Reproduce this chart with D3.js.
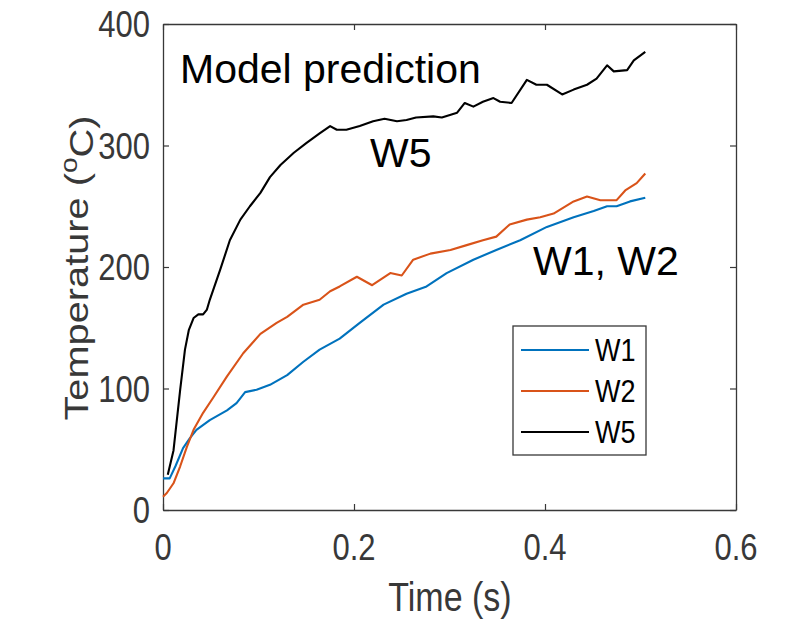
<!DOCTYPE html>
<html>
<head>
<meta charset="utf-8">
<script src="https://cdnjs.cloudflare.com/ajax/libs/d3/7.8.5/d3.min.js"></script>
<style>
  body { margin: 0; background: #fff; }
  svg { display: block; font-family: "Liberation Sans", Arial, sans-serif; }
</style>
</head>
<body>
<svg id="chart" width="788" height="620"></svg>
<script>
// data
var w1_time = [0, 0.007, 0.013, 0.021, 0.028, 0.035, 0.049, 0.067, 0.077, 0.086, 0.098, 0.112, 0.130, 0.147, 0.164, 0.185, 0.206, 0.231, 0.255, 0.276, 0.297, 0.325, 0.349, 0.374, 0.402, 0.430, 0.451, 0.465, 0.475, 0.489, 0.505];
var w1_temp = [26, 26, 36, 51, 59, 66, 74, 82, 88, 97, 99, 103, 111, 122, 132, 141, 154, 169, 178, 184, 195, 206, 214, 222, 233, 241, 246, 250, 250, 254, 257];

var w2_time = [0, 0.004, 0.011, 0.018, 0.025, 0.032, 0.042, 0.053, 0.067, 0.084, 0.102, 0.119, 0.130, 0.147, 0.164, 0.175, 0.185, 0.203, 0.219, 0.238, 0.250, 0.262, 0.280, 0.301, 0.318, 0.335, 0.349, 0.363, 0.381, 0.395, 0.409, 0.430, 0.444, 0.458, 0.475, 0.484, 0.496, 0.505];
var w2_temp = [11, 14, 22, 36, 52, 66, 80, 93, 110, 129, 145, 154, 159, 169, 173, 180, 184, 192, 185, 195, 193, 206, 211, 214, 218, 222, 225, 235, 239, 241, 244, 254, 258, 255, 255, 263, 269, 277];

var w5_time = [0.005, 0.011, 0.018, 0.023, 0.027, 0.032, 0.037, 0.042, 0.046, 0.049, 0.060, 0.070, 0.081, 0.091, 0.102, 0.112, 0.123, 0.137, 0.150, 0.164, 0.175, 0.182, 0.192, 0.206, 0.220, 0.232, 0.245, 0.255, 0.265, 0.283, 0.292, 0.308, 0.316, 0.325, 0.335, 0.346, 0.353, 0.365, 0.381, 0.391, 0.402, 0.418, 0.430, 0.444, 0.454, 0.465, 0.472, 0.486, 0.493, 0.505];
var w5_temp = [29, 49, 99, 132, 148, 158, 161, 161, 165, 173, 198, 222, 239, 250, 261, 274, 284, 294, 302, 310, 316, 313, 313, 316, 320, 322, 320, 321, 323, 324, 323, 327, 335, 332, 336, 339, 336, 335, 354, 350, 350, 342, 346, 350, 355, 366, 361, 362, 370, 377];

var series_names = ["W1", "W2", "W5"];
var series_colors = ["#0072BD", "#D95319", "#000000"];
var x_ticks = [0, 0.2, 0.4, 0.6];
var y_ticks = [0, 100, 200, 300, 400];

var svg = d3.select("#chart"),
    margin = {top: 24, right: 52, bottom: 110, left: 163},
    width = 788 - margin.left - margin.right,
    height = 620 - margin.top - margin.bottom,
    stretch = 1.17,
    axis_color = "#383838";

var x = d3.scaleLinear().domain([0, 0.6]).range([0, width]);
var y = d3.scaleLinear().domain([0, 400]).range([height, 0]);

var g = svg.append("g")
    .attr("transform", "translate(" + margin.left + "," + margin.top + ")");

var series = [
  {name: "W1", time: w1_time, temp: w1_temp},
  {name: "W2", time: w2_time, temp: w2_temp},
  {name: "W5", time: w5_time, temp: w5_temp}
].map(function(s, i) {
  return {
    name: s.name,
    color: series_colors[i],
    values: s.time.map(function(t, j) { return {t: t, v: s.temp[j]}; })
  };
});

//AXES - matlab style box with inward ticks
function styleAxis(sel) {
  sel.select(".domain").attr("stroke", axis_color).attr("stroke-width", 1.3);
  sel.selectAll(".tick line").attr("stroke", axis_color).attr("stroke-width", 1.2);
}

g.append("g")
    .attr("transform", "translate(0," + height + ")")
    .call(d3.axisBottom(x).tickValues(x_ticks).tickSizeInner(-6).tickSizeOuter(0).tickFormat(""))
    .call(styleAxis);
g.append("g")
    .call(d3.axisTop(x).tickValues(x_ticks).tickSizeInner(-6).tickSizeOuter(0).tickFormat(""))
    .call(styleAxis);
g.append("g")
    .call(d3.axisLeft(y).tickValues(y_ticks).tickSizeInner(-6).tickSizeOuter(0).tickFormat(""))
    .call(styleAxis);
g.append("g")
    .attr("transform", "translate(" + width + ",0)")
    .call(d3.axisRight(y).tickValues(y_ticks).tickSizeInner(-6).tickSizeOuter(0).tickFormat(""))
    .call(styleAxis);

// tick labels (picture is slightly stretched vertically)
g.append("g").selectAll("text")
    .data(x_ticks)
  .enter().append("text")
    .attr("transform", function(d) { return "translate(" + x(d) + "," + (height + 50) + ") scale(1," + stretch + ")"; })
    .attr("text-anchor", "middle")
    .attr("fill", axis_color)
    .style("font-size", "31px")
    .text(function(d) { return d; });

g.append("g").selectAll("text")
    .data(y_ticks)
  .enter().append("text")
    .attr("transform", function(d) { return "translate(-13," + (y(d) + 13) + ") scale(1," + stretch + ")"; })
    .attr("text-anchor", "end")
    .attr("fill", axis_color)
    .style("font-size", "31px")
    .text(function(d) { return d; });

svg.append("text")
    .attr("transform", "translate(450,611) scale(1," + stretch + ")")
    .attr("text-anchor", "middle")
    .attr("fill", axis_color)
    .style("font-size", "34px")
    .text("Time (s)");

var ylab = svg.append("text")
    .attr("transform", "translate(88,268) scale(1," + stretch + ") rotate(-90)")
    .attr("text-anchor", "middle")
    .attr("fill", axis_color)
    .style("font-size", "34px");
ylab.append("tspan").text("Temperature (");
ylab.append("tspan").attr("dy", "-0.45em").style("font-size", "24px").text("o");
ylab.append("tspan").attr("dy", "0.45em").text("C)");

//LINES
var line = d3.line()
    .x(function(d) { return x(d.t); })
    .y(function(d) { return y(d.v); });

g.selectAll(".series")
    .data(series)
  .enter().append("path")
    .attr("class", "series")
    .attr("fill", "none")
    .attr("stroke", function(d) { return d.color; })
    .attr("stroke-width", 2.1)
    .attr("stroke-linejoin", "round")
    .attr("d", function(d) { return line(d.values); });

//LEGEND
var legend = svg.append("g").attr("transform", "translate(513,326)");
legend.append("rect")
    .attr("width", 133)
    .attr("height", 129)
    .attr("fill", "#fff")
    .attr("stroke", axis_color)
    .attr("stroke-width", 1.3);

var item = legend.selectAll(".item")
    .data(series_names)
  .enter().append("g")
    .attr("class", "item")
    .attr("transform", function(d, i) { return "translate(0," + (24 + i * 41) + ")"; });
item.append("line")
    .attr("x1", 8).attr("x2", 76)
    .attr("stroke", function(d, i) { return series_colors[i]; })
    .attr("stroke-width", 2.1);
item.append("text")
    .attr("transform", "translate(82,11) scale(1," + stretch + ")")
    .attr("fill", "#000")
    .style("font-size", "27px")
    .text(function(d) { return d; });

//ANNOTATIONS
var notes = [
  {label: "Model prediction", px: 180, py: 83},
  {label: "W5", px: 370, py: 167},
  {label: "W1, W2", px: 533, py: 275}
];
svg.selectAll(".note")
    .data(notes)
  .enter().append("text")
    .attr("class", "note")
    .attr("x", function(d) { return d.px; })
    .attr("y", function(d) { return d.py; })
    .attr("fill", "#000")
    .style("font-size", "41px")
    .text(function(d) { return d.label; });
</script>
</body>
</html>
